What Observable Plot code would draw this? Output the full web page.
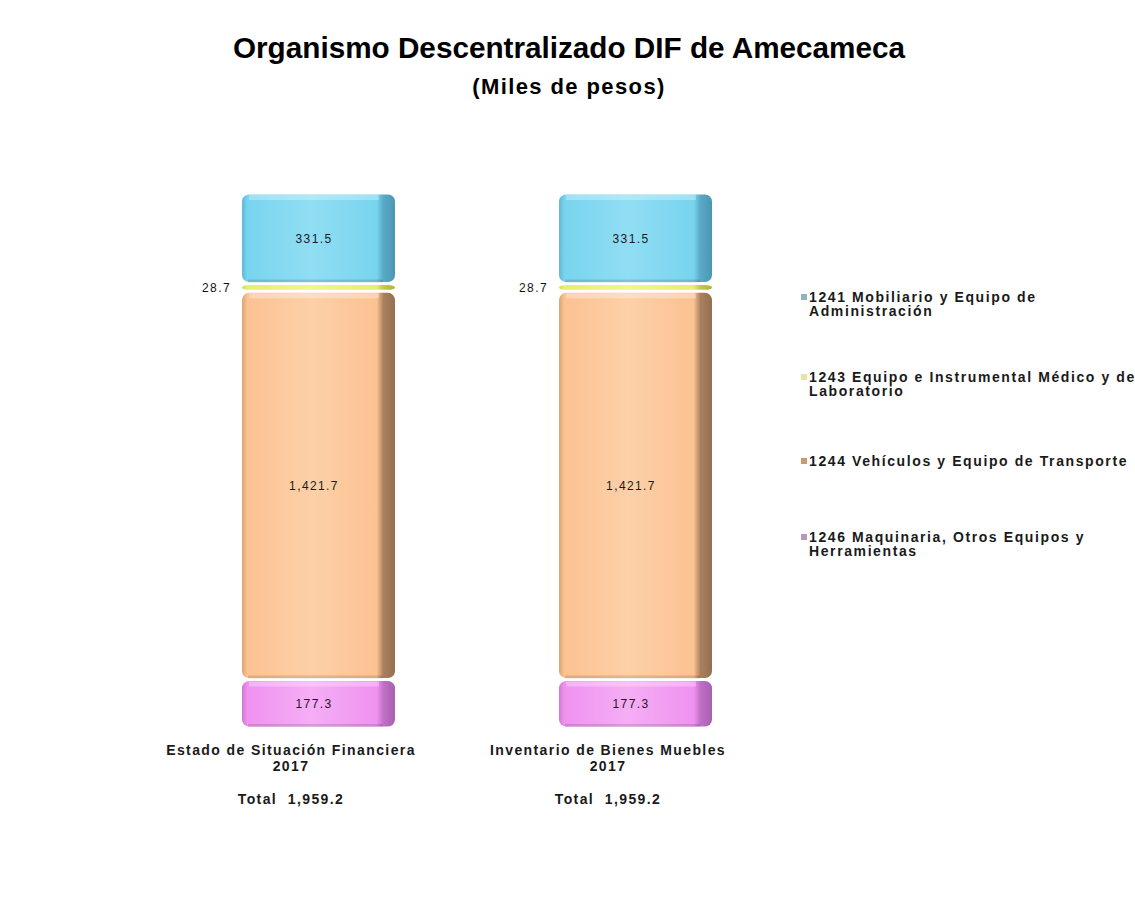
<!DOCTYPE html>
<html>
<head>
<meta charset="utf-8">
<script src="https://cdn.jsdelivr.net/npm/d3@7"></script>
<script src="https://cdn.jsdelivr.net/npm/@observablehq/plot@0.6"></script>
<style>
  html, body { margin: 0; padding: 0; background: #fff; overflow: hidden; }
  #wrap { position: relative; width: 1135px; height: 905px; overflow: hidden; font-family: "Liberation Sans", Arial, sans-serif; color: #000; }
  #chart { position: absolute; left: 0; top: 0; }
  #chart svg text { letter-spacing: 1.4px; }
  .title { position: absolute; left: 0; width: 1138px; text-align: center; font-weight: bold; line-height: 1; white-space: nowrap; }
  #t1 { top: 33px; font-size: 29.7px; }
  #t2 { top: 76px; font-size: 22px; letter-spacing: 1.4px; }
  .leg { position: absolute; left: 801px; white-space: nowrap; font-weight: bold; font-size: 14px; letter-spacing: 1.6px; line-height: 14px; color: #1a1a1a; }
  .leg .sw { position: absolute; left: 0; top: 4px; width: 6px; height: 6px; }
  .leg .tx { position: absolute; left: 8px; top: 0; }
</style>
</head>
<body>
<div id="wrap">
  <svg width="0" height="0" style="position:absolute" id="defs"><defs></defs></svg>
  <div id="chart"></div>
  <div class="title" id="t1"></div>
  <div class="title" id="t2"></div>
  <div id="legend"></div>
</div>
<script>
// ---- data ----
const titleText = "Organismo Descentralizado DIF de Amecameca";
const subtitleText = "(Miles de pesos)";
const categories = ["Estado de Situación Financiera", "Inventario de Bienes Muebles"];
const year = "2017";
const codes = ["1246", "1244", "1243", "1241"]; // stack order, bottom to top
const valuesEstado = [177.3, 1421.7, 28.7, 331.5];
const valuesInventario = [177.3, 1421.7, 28.7, 331.5];
const legendCodes = ["1241", "1243", "1244", "1246"];
const legendLines = [
  ["1241 Mobiliario y Equipo de", "Administración"],
  ["1243 Equipo e Instrumental Médico y de", "Laboratorio"],
  ["1244 Vehículos y Equipo de Transporte"],
  ["1246 Maquinaria, Otros Equipos y", "Herramientas"]
];

// ---- styles ----
const palette = {
  "1241": {edge: "#5fb8d4", base: "#78d4ee", light: "#90def4", side: "#58a9c6", sideDark: "#4b97b3", swatch: "#8fb5bd"},
  "1243": {edge: "#d4d85a", base: "#e8ee6c", light: "#f2f58a", side: "#c4c84c", sideDark: "#b0b440", swatch: "#e3e6a0"},
  "1244": {edge: "#d9a574", base: "#fcc292", light: "#fdd0a8", side: "#a8805f", sideDark: "#94704f", swatch: "#c99a70"},
  "1246": {edge: "#cf78d2", base: "#ef92ef", light: "#f5aef5", side: "#bf70c6", sideDark: "#a85fae", swatch: "#b898b8"}
};

// gradients
const defs = d3.select("#defs defs");
for (const c of codes) {
  const p = palette[c];
  const g = defs.append("linearGradient").attr("id", "g" + c).attr("x1", 0).attr("x2", 1).attr("y1", 0).attr("y2", 0);
  [[0, p.edge], [0.035, p.base], [0.45, p.light], [0.88, p.base], [0.925, p.side], [1, p.sideDark]]
    .forEach(([o, col]) => g.append("stop").attr("offset", o).attr("stop-color", col));
}

// ---- table ----
const series = [valuesEstado, valuesInventario];
const rows = [];
categories.forEach((cat, i) => codes.forEach((code, j) => rows.push({cat, code, value: series[i][j]})));
const totals = series.map(v => d3.sum(v));
const total = d3.max(totals);
const fmt = d3.format(",.1f");
const totalLabel = new Map(categories.map((c, i) => [c, "Total\u00a0\u00a0" + fmt(totals[i])]));

const chart = Plot.plot({
  width: 1135,
  height: 905,
  marginTop: 193,
  marginBottom: 177,
  marginLeft: 78,
  marginRight: 259,
  style: {fontFamily: "'Liberation Sans', Arial, sans-serif", background: "transparent", overflow: "visible"},
  x: {domain: categories, padding: 0.517, axis: null},
  y: {domain: [0, total], axis: null},
  color: {domain: codes, range: codes.map(c => `url(#g${c})`)},
  marks: [
    Plot.rectY(rows, {x: "cat", y: "value", fill: "code", rx: 7, insetTop: 1.5, insetBottom: 1.5}),
    // top bevel highlight
    Plot.tickY(rows, Plot.filter(d => d.value > 100, Plot.stackY2({x: "cat", y: "value", dy: 4, stroke: "white", strokeOpacity: 0.3, strokeWidth: 5, insetLeft: 7, insetRight: 16}))),
    // bottom shadow
    Plot.tickY(rows, Plot.filter(d => d.value > 100, Plot.stackY1({x: "cat", y: "value", dy: -3, stroke: "black", strokeOpacity: 0.12, strokeWidth: 3, insetLeft: 6, insetRight: 12}))),
    // value labels inside
    Plot.text(rows, Plot.filter(d => d.code !== "1243", Plot.stackY({x: "cat", y: "value", text: d => fmt(d.value), dx: -5, fontSize: 12, fill: "#1a1a1a"}))),
    // small segment label outside
    Plot.text(rows, Plot.filter(d => d.code === "1243", Plot.stackY({x: "cat", y: "value", text: d => fmt(d.value), dx: -88, textAnchor: "end", fontSize: 12, fill: "#111"}))),
    // category labels
    Plot.text(categories, {x: d => d, frameAnchor: "bottom", dy: 26, dx: -28, text: d => d, fontSize: 14, fontWeight: "bold", fill: "#1a1a1a"}),
    Plot.text(categories, {x: d => d, frameAnchor: "bottom", dy: 42, dx: -28, text: () => year, fontSize: 14, fontWeight: "bold", fill: "#1a1a1a"}),
    Plot.text(categories, {x: d => d, frameAnchor: "bottom", dy: 75, dx: -28, text: d => totalLabel.get(d), fontSize: 14, fontWeight: "bold", fill: "#1a1a1a"})
  ]
});
document.getElementById("chart").appendChild(chart);

document.getElementById("t1").textContent = titleText;
document.getElementById("t2").textContent = subtitleText;

// legend
const legendTops = [290, 370, 454, 530];
const leg = d3.select("#legend");
legendCodes.forEach((c, i) => {
  const e = leg.append("div").attr("class", "leg").style("top", legendTops[i] + "px");
  e.append("div").attr("class", "sw").style("background", palette[c].swatch);
  e.append("div").attr("class", "tx").html(legendLines[i].map(s => s.replace(/&/g, "&amp;")).join("<br>"));
});
</script>
</body>
</html>
